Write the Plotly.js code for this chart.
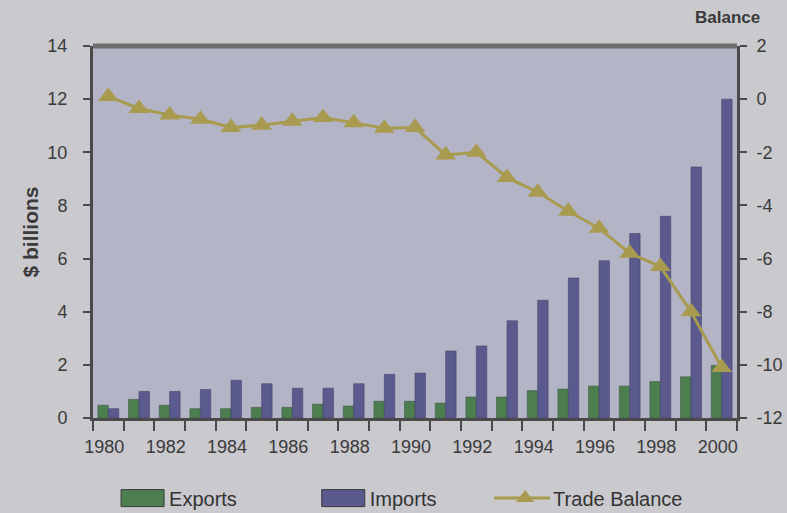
<!DOCTYPE html>
<html>
<head>
<meta charset="utf-8">
<script src="https://cdn.plot.ly/plotly-3.0.1.min.js"></script>
<style>html,body{margin:0;padding:0;background:#c9c9ce;}#chart{width:787px;height:513px;}</style>
</head>
<body>
<div id="chart"></div>
<script>
const years = [1980,1981,1982,1983,1984,1985,1986,1987,1988,1989,1990,1991,1992,1993,1994,1995,1996,1997,1998,1999,2000];
const exportsVals = [0.48,0.70,0.48,0.35,0.35,0.40,0.40,0.52,0.45,0.63,0.63,0.56,0.79,0.79,1.03,1.09,1.20,1.20,1.37,1.55,1.98];
const importsVals = [0.35,1.00,1.00,1.07,1.42,1.29,1.12,1.12,1.29,1.64,1.69,2.52,2.71,3.66,4.43,5.27,5.92,6.94,7.59,9.45,12.0];
const balanceVals = [0.1,-0.35,-0.6,-0.76,-1.07,-0.98,-0.83,-0.69,-0.89,-1.1,-1.07,-2.1,-2.0,-2.95,-3.5,-4.22,-4.86,-5.8,-6.3,-8.0,-10.1];
const balanceTickVals = [-12,-10,-8,-6,-4,-2,0,2];
const balanceTickText = ['-12','-10','-8','-6','-4','-2','0','2'];

const font = 'Liberation Sans, Arial, sans-serif';
const traces = [
  {type:'bar', name:'Exports', x:years, y:exportsVals, marker:{color:'#4d7e50', line:{color:'#3c5a40', width:0.6}}, legend:'legend'},
  {type:'bar', name:'Imports', x:years, y:importsVals, marker:{color:'#5a5a8e', line:{color:'#45456a', width:0.6}}, legend:'legend2'},
  {type:'scatter', mode:'lines+markers', name:'Trade Balance', x:years, y:balanceVals, yaxis:'y2',
   line:{color:'#a89b50', width:3}, marker:{symbol:'triangle-up', size:18, color:'#a89b50'}, legend:'legend3'}
];
const legBase = {orientation:'h', xref:'container', yref:'container', yanchor:'middle', xanchor:'left', bgcolor:'rgba(0,0,0,0)', font:{family:font, size:20, color:'#333'}};
const layout = {
  width:787, height:513,
  paper_bgcolor:'#c9c9ce', plot_bgcolor:'#b4b4c7',
  margin:{l:93, r:50, t:46, b:95},
  font:{family:font, size:18, color:'#3a3a3a'},
  barmode:'group', bargap:0.32, bargroupgap:0,
  showlegend:true,
  xaxis:{type:'linear', range:[1979.5,2000.5], tick0:1980, dtick:2, ticks:'', showgrid:false, zeroline:false,
    showline:true, linecolor:'#4a4a4a', linewidth:3, ticklabelshift:-4, ticklabelstandoff:10,
    minor:{tick0:1979.5, dtick:1, ticks:'outside', ticklen:10, tickcolor:'#4a4a4a', tickwidth:2, showgrid:false},
    tickfont:{family:font, size:18, color:'#3a3a3a'}},
  yaxis:{range:[0,14], dtick:2, showgrid:false, zeroline:false, showline:true, linecolor:'#4a4a4a', linewidth:3,
    ticks:'outside', ticklen:7, tickwidth:2, tickcolor:'#4a4a4a', ticklabelstandoff:12,
    title:{text:'$ billions', font:{family:font, size:21, color:'#3a3a3a', weight:'bold'}, standoff:4},
    tickfont:{family:font, size:18, color:'#3a3a3a'}},
  yaxis2:{overlaying:'y', side:'right', range:[-12,2], tickvals:balanceTickVals, ticktext:balanceTickText,
    showgrid:false, zeroline:false, showline:true, ticklabelstandoff:6,
    linecolor:'#4a4a4a', linewidth:3, ticks:'outside', ticklen:7, tickwidth:2, tickcolor:'#4a4a4a',
    tickfont:{family:font, size:18, color:'#3a3a3a'}},
  shapes:[{type:'line', xref:'paper', yref:'paper', x0:0, x1:1, y0:1, y1:1, line:{color:'#6e6e6e', width:5}}],
  annotations:[{text:'<b>Balance</b>', xref:'paper', yref:'paper', x:1.0, y:1, yshift:29, xshift:-10, xanchor:'center', yanchor:'middle', showarrow:false,
    font:{family:font, size:17, color:'#3a3a3a'}}],
  legend:Object.assign({}, legBase, {x:0.164, y:0.029}),
  legend2:Object.assign({}, legBase, {x:0.419, y:0.029}),
  legend3:Object.assign({}, legBase, {x:0.652, y:0.029})
};
Plotly.newPlot('chart', traces, layout, {displayModeBar:false, staticPlot:true}).then(function(){
  document.querySelectorAll('[clip-path]').forEach(function(e){
    const c = e.getAttribute('clip-path') || '';
    if (c.indexOf('legend') >= 0) e.removeAttribute('clip-path');
  });
  document.querySelectorAll('.legendpoints path').forEach(function(p){
    const d = (p.getAttribute('d') || '').replace(/\s/g,'');
    if (d === 'M6,6H-6V-6H6Z') {
      p.setAttribute('d', 'M15,8.5H-28V-8.5H15Z');
      p.style.strokeWidth = '1px';
      p.style.stroke = '#3a3a3a';
    } else if (p.classList.contains('scatterpts')) {
      const t = p.getAttribute('transform') || '';
      p.setAttribute('transform', 'translate(-8,0) ' + t);
    }
  });
  document.querySelectorAll('.legendlines path').forEach(function(p){
    p.setAttribute('d', 'M-19,0h56');
  });
});
</script>
</body>
</html>
